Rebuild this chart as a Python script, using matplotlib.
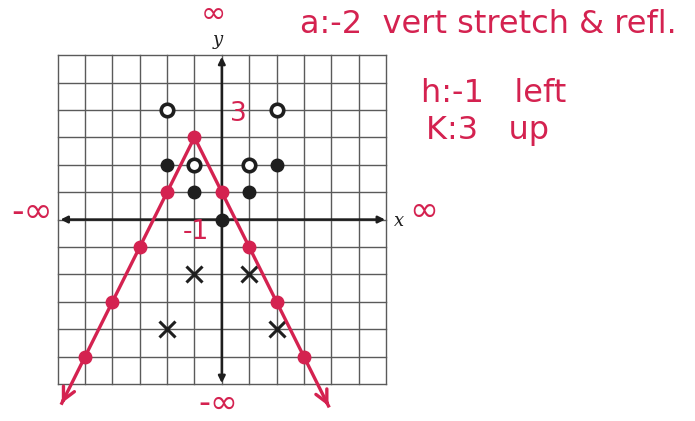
import matplotlib
matplotlib.use("Agg")
import matplotlib.pyplot as plt
import numpy as np

# transformation parameters  y = a|x - h| + k
a, h, k = -2, -1, 3

# parent graph y = |x|
parent_x = [-2, -1, 0, 1, 2]
parent_y = [2, 1, 0, 1, 2]
# stretched y = 2|x|
stretch_x = [-2, -1, 1, 2]
stretch_y = [4, 2, 2, 4]
# reflected y = -2|x|
refl_x = [-2, -1, 1, 2]
refl_y = [-4, -2, -2, -4]
# final graph points
final_x = [-5, -4, -3, -2, -1, 0, 1, 2, 3]
final_y = [-5, -3, -1, 1, 3, 1, -1, -3, -5]
# ends of the drawn rays
ray_x = [-5.85, 3.9]

RED = "#d42250"
INK = "#1e1e1e"
GRID = "#5a5a5a"

fig = plt.figure(figsize=(6.95, 4.21), dpi=100)
ax = fig.add_axes([0, 0, 1, 1])
ax.set_xlim(-8.11, 17.3)
ax.set_ylim(-7.35, 8.01)
ax.axis("off")

# grid paper
for v in range(-6, 7):
    ax.plot([v, v], [-6, 6], color=GRID, lw=1.0, zorder=1)
    ax.plot([-6, 6], [v, v], color=GRID, lw=1.0, zorder=1)

# axes with arrows
ax.annotate("", xy=(5.97, 0), xytext=(-5.9, 0),
            arrowprops=dict(arrowstyle="<|-|>", color=INK, lw=1.8,
                            mutation_scale=10, shrinkA=0, shrinkB=0), zorder=2)
ax.annotate("", xy=(0, 5.94), xytext=(0, -5.97),
            arrowprops=dict(arrowstyle="<|-|>", color=INK, lw=1.8,
                            mutation_scale=10, shrinkA=0, shrinkB=0), zorder=2)
ax.text(6.3, -0.05, "x", fontsize=13, family="DejaVu Serif", style="italic",
        color=INK, ha="left", va="center")
ax.text(-0.14, 6.55, "y", fontsize=13, family="DejaVu Serif", style="italic",
        color=INK, ha="center", va="center")

# point sets
ax.plot(parent_x, parent_y, "o", color=INK, ms=9, zorder=4)
ax.plot(stretch_x, stretch_y, "o", mfc="white", mec=INK, mew=2.6, ms=9, zorder=4)
ax.plot(refl_x, refl_y, "x", color=INK, ms=11, mew=2.2, zorder=4)

# final graph
xs = np.array([ray_x[0], h, ray_x[1]])
ys = a * np.abs(xs - h) + k
ax.plot(xs, ys, color=RED, lw=2.4, zorder=5)
for i in (0, 2):
    j = 1
    d = np.array([xs[i] - xs[j], ys[i] - ys[j]])
    start = np.array([xs[i], ys[i]]) - 0.15 * d / np.linalg.norm(d)
    ax.annotate("", xy=(xs[i], ys[i]), xytext=start,
                arrowprops=dict(arrowstyle="->", color=RED, lw=2.4,
                                mutation_scale=22, shrinkA=0, shrinkB=0), zorder=5)
ax.plot(final_x, final_y, "o", color=RED, ms=9, zorder=6)

# annotations
red_txt = dict(color=RED, family="DejaVu Sans", zorder=7)
ax.text(-0.32, 7.5, "∞", fontsize=22, ha="center", va="center", **red_txt)
ax.text(2.85, 7.1, "a:-2  vert stretch & refl.", fontsize=23, ha="left",
        va="center", **red_txt)
ax.text(7.3, 4.6, "h:-1   left", fontsize=23, ha="left", va="center", **red_txt)
ax.text(7.45, 3.25, "K:3   up", fontsize=23, ha="left", va="center", **red_txt)
ax.text(-6.95, 0.27, "-∞", fontsize=25, ha="center", va="center", **red_txt)
ax.text(7.4, 0.3, "∞", fontsize=25, ha="center", va="center", **red_txt)
ax.text(0.62, 3.85, "3", fontsize=19, ha="center", va="center", **red_txt)
ax.text(-0.95, -0.45, "-1", fontsize=19, ha="center", va="center", **red_txt)
ax.text(-0.14, -6.7, "-∞", fontsize=24, ha="center", va="center", **red_txt)

fig.savefig("out.png", dpi=100)
